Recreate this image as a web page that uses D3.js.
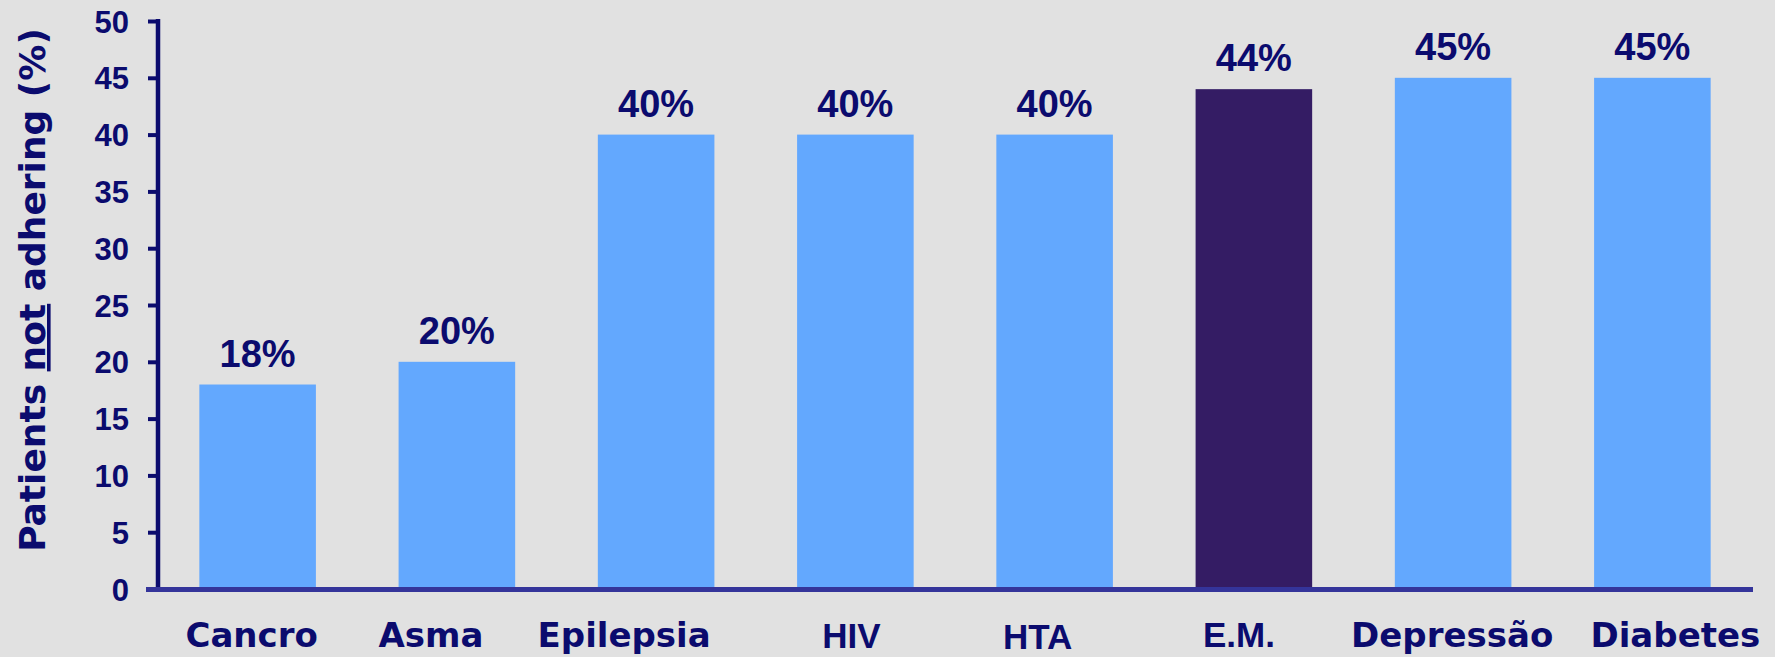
<!DOCTYPE html>
<html>
<head>
<meta charset="utf-8">
<script src="https://cdn.jsdelivr.net/npm/d3@7"></script>
<style>
  html, body { margin: 0; padding: 0; background: #e1e1e1; }
  svg { display: block; }
</style>
</head>
<body>
<div id="chart"></div>
<script>
// data
const categories = ["Cancro", "Asma", "Epilepsia", "HIV", "HTA", "E.M.", "Depressão", "Diabetes"]
const values = [18, 20, 40, 40, 40, 44, 45, 45]
const yTicks = [0, 5, 10, 15, 20, 25, 30, 35, 40, 45, 50]
const highlight = "E.M."

// layout
const width = 1775
const height = 657
const x0 = 158, x1 = 1752
const yTop = 21, yBottom = 589
const navy = "#0b0b6e"
const arialLabels = new Set(["HIV", "HTA", "E.M."])
// the labels in the slide are not centred exactly under the bars
const labelNudge = [-6, -26, -32, -4, -17, -15, -1, 23]
const labelDrop = [0, 0, 0, 1, 2, 0, 0, 0]

const svg = d3.select("div#chart").append("svg").attr("width", width).attr("height", height)
svg.append("rect").attr("width", width).attr("height", height).attr("fill", "#e1e1e1")

const x = d3.scaleBand().domain(categories).range([x0, x1]).paddingInner(0.415).paddingOuter(0.2075)
const y = d3.scaleLinear().domain([0, 50]).range([yBottom, yTop])

// bars
svg.append("g").selectAll("rect").data(values).enter()
    .append("rect")
    .attr("x", (d, i) => x(categories[i]))
    .attr("y", d => y(d))
    .attr("width", x.bandwidth())
    .attr("height", d => yBottom - y(d))
    .attr("fill", (d, i) => categories[i] === highlight ? "#341c64" : "#63a8fe")

// value labels
svg.append("g").selectAll("text").data(values).enter()
    .append("text")
    .attr("x", (d, i) => x(categories[i]) + x.bandwidth() / 2)
    .attr("y", d => y(d) - 18)
    .attr("text-anchor", "middle")
    .attr("font-family", "Liberation Sans, Arial, sans-serif")
    .attr("font-weight", "bold")
    .attr("font-size", "38px")
    .attr("fill", navy)
    .text(d => d + "%")

// y axis
const yAxis = d3.axisLeft(y).tickValues(yTicks).tickSize(10).tickPadding(19)
const yAxisGroup = svg.append("g").attr("transform", `translate(${x0}, 0)`).call(yAxis)
yAxisGroup.select(".domain").remove()
yAxisGroup.append("line")
    .attr("x1", 0).attr("x2", 0).attr("y1", yTop - 2).attr("y2", yBottom + 2)
    .attr("stroke", navy).attr("stroke-width", 4.5)
yAxisGroup.selectAll(".tick line").attr("stroke", navy).attr("stroke-width", 4)
yAxisGroup.selectAll(".tick text")
    .attr("font-family", "Liberation Sans, Arial, sans-serif")
    .attr("font-weight", "bold")
    .attr("font-size", "31px")
    .attr("fill", navy)
    .attr("dy", "0.36em")

// x axis line
const xAxis = d3.axisBottom(x).tickSize(0).tickPadding(0)
const xAxisGroup = svg.append("g").attr("transform", `translate(0, ${yBottom})`).call(xAxis)
xAxisGroup.select(".domain").remove()
xAxisGroup.append("line")
    .attr("x1", x0 - 12).attr("x2", x1 + 1).attr("y1", 0.5).attr("y2", 0.5)
    .attr("stroke", "#34349a").attr("stroke-width", 5)
xAxisGroup.selectAll(".tick text")
    .attr("transform", (d, i) => `translate(${labelNudge[i]}, ${58 + labelDrop[i]})`)
    .attr("dy", 0)
    .attr("font-family", d => arialLabels.has(d) ? "Liberation Sans, Arial, sans-serif" : "DejaVu Sans, sans-serif")
    .attr("font-weight", "bold")
    .attr("font-size", d => arialLabels.has(d) ? "35px" : "34px")
    .attr("fill", navy)

// y title
const yTitle = svg.append("text")
    .attr("transform", `translate(45, 290) rotate(-90)`)
    .attr("text-anchor", "middle")
    .attr("font-family", "DejaVu Sans, sans-serif")
    .attr("font-weight", "bold")
    .attr("font-size", "36px")
    .attr("fill", navy)
yTitle.append("tspan").text("Patients ")
yTitle.append("tspan").attr("text-decoration", "underline").text("not")
yTitle.append("tspan").text(" adhering (%)")
</script>
</body>
</html>
